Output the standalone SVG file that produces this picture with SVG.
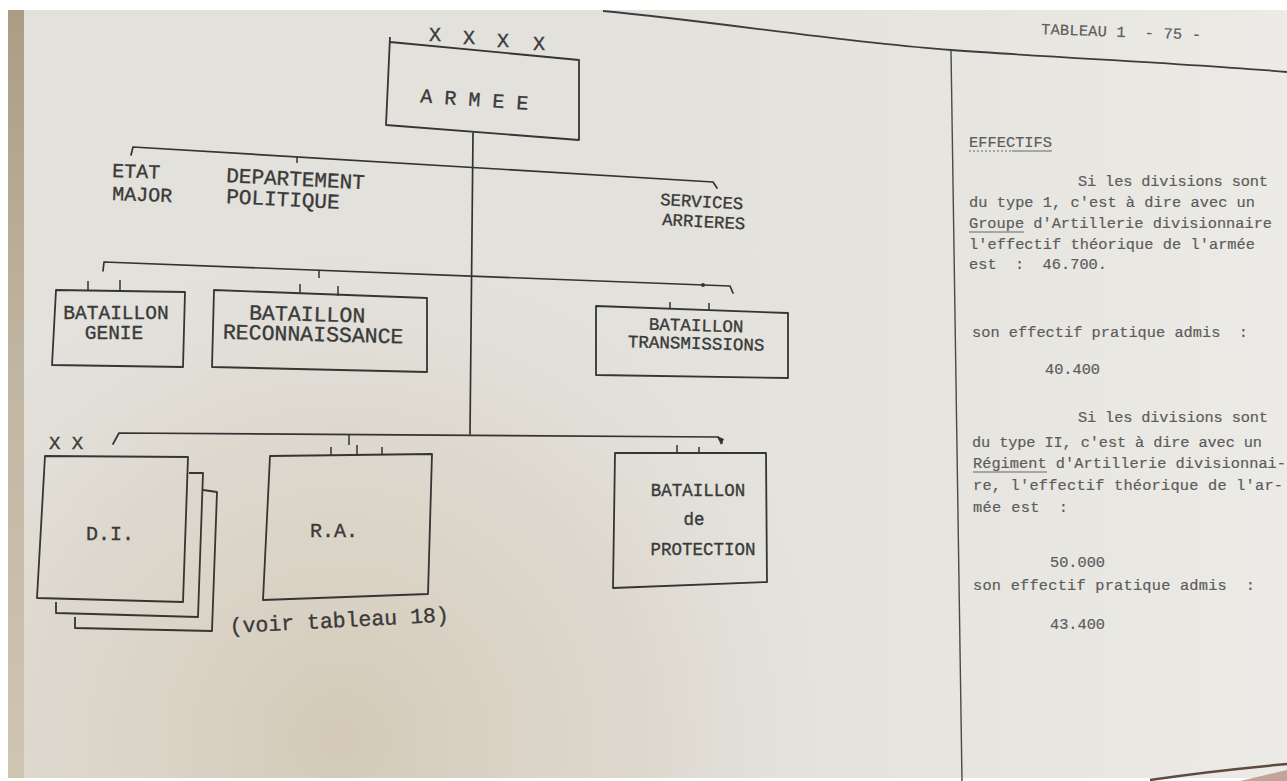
<svg xmlns="http://www.w3.org/2000/svg" width="1287" height="781" viewBox="0 0 1287 781" xml:space="preserve">
<defs>
<radialGradient id="beige" cx="340" cy="740" r="520" gradientUnits="userSpaceOnUse">
<stop offset="0" stop-color="#d3c8b6" stop-opacity="0.95"/>
<stop offset="0.6" stop-color="#d8d0c2" stop-opacity="0.5"/>
<stop offset="1" stop-color="#e3e1db" stop-opacity="0"/>
</radialGradient>
<linearGradient id="strip" x1="0" y1="0" x2="0" y2="1">
<stop offset="0" stop-color="#ab9d84"/>
<stop offset="0.5" stop-color="#c2b7a3"/>
<stop offset="1" stop-color="#cfc5b3"/>
</linearGradient>
<linearGradient id="light" x1="0" y1="0" x2="1" y2="0">
<stop offset="0" stop-color="#e9e8e3" stop-opacity="0"/>
<stop offset="1" stop-color="#eeede9" stop-opacity="0.8"/>
</linearGradient>
</defs>
<style>
text{white-space:pre}
.ln{fill:none;stroke:#333;stroke-width:1.7;stroke-linejoin:round;stroke-linecap:round}
.bx{fill:none;stroke:#353535;stroke-width:1.8;stroke-linejoin:round}
.tk{fill:none;stroke:#333;stroke-width:1.5}
.t{font-family:"Liberation Mono","DejaVu Sans Mono",monospace;fill:#3a3a3a;stroke:#3a3a3a;stroke-width:0.35}
.c{text-anchor:middle}
.r{font-family:"Liberation Mono","DejaVu Sans Mono",monospace;font-size:15.3px;fill:#5c5c5c;stroke:#5c5c5c;stroke-width:0.2}
.ul{stroke:#666;stroke-width:1.2}
</style>
<rect width="1287" height="781" fill="#e3e1db"/>
<rect x="620" y="0" width="667" height="781" fill="url(#light)"/>
<rect width="1287" height="781" fill="url(#beige)"/>
<rect x="8" y="10" width="16" height="768" fill="url(#strip)"/>
<rect x="0" y="0" width="1287" height="10" fill="#ffffff"/>
<rect x="0" y="0" width="8" height="781" fill="#ffffff"/>
<rect x="0" y="778" width="1287" height="3" fill="#ffffff"/>
<path d="M1240,781 L1287,770 L1287,781 Z" fill="#c4a497"/>
<path d="M1150,780 Q1210,771 1287,764" fill="none" stroke="#5e4a3e" stroke-width="2.5"/>

<!-- page lines -->
<path d="M603,11 C720,22 840,42 951,50 S1200,64 1287,72" fill="none" stroke="#3c3c3c" stroke-width="1.8"/>
<path d="M951,50 L962,781" fill="none" stroke="#4a4a4a" stroke-width="1.4"/>

<!-- connectors -->
<g id="connectors">
<path class="ln" d="M473,133 L470,434"/>
<path class="ln" d="M131,155 L133,147 L713,182 L717,188"/>
<path class="tk" d="M297,157 L297,163"/>
<path class="ln" d="M103,271 L104,262 L730,286 L733,293"/>
<circle cx="703" cy="285" r="2" fill="#333"/>
<path class="tk" d="M319,270 L319,278"/>
<path class="tk" d="M88,281 L88,291 M120,280 L120,291"/>
<path class="tk" d="M300,284 L300,294 M338,286 L338,296"/>
<path class="tk" d="M670,302 L670,309 M709,303 L709,310"/>
<path class="ln" d="M113,444 L119,433 L718,437 L722,443"/>
<path d="M717,436 L724,439 L721,445 Z" fill="#333"/>
<path class="tk" d="M349,435 L349,445"/>
<path class="tk" d="M331,447 L331,456 M357,445 L357,456 M382,447 L382,455"/>
<path class="tk" d="M677,445 L677,453 M699,447 L699,453"/>
</g>

<!-- ARMEE -->
<g id="armee">
<text class="t" font-size="20" x="435" y="41" text-anchor="middle">X</text>
<text class="t" font-size="20" x="469" y="44" text-anchor="middle">X</text>
<text class="t" font-size="20" x="503" y="47" text-anchor="middle">X</text>
<text class="t" font-size="20" x="539" y="50" text-anchor="middle">X</text>
<path class="bx" d="M390,37 L386,125 L579,140 L579,60 L390,42"/>
<text class="t c" font-size="20" x="474" y="106" transform="rotate(4 474 106)">A R M E E</text>
</g>

<g id="etat-major">
<text class="t" font-size="20" x="112" y="177" transform="rotate(2 112 177)">ETAT</text>
<text class="t" font-size="20" x="112" y="200" transform="rotate(2 112 200)">MAJOR</text>
</g>
<g id="departement-politique">
<text class="t" font-size="21" x="226" y="182" transform="rotate(3 226 182)">DEPARTEMENT</text>
<text class="t" font-size="21" x="226" y="203" transform="rotate(3 226 203)">POLITIQUE</text>
</g>
<g id="services-arrieres">
<text class="t" font-size="17.3" x="660" y="205" transform="rotate(3 660 205)">SERVICES</text>
<text class="t" font-size="17.3" x="662" y="225" transform="rotate(3 662 225)">ARRIERES</text>
</g>

<g id="bataillon-genie">
<path class="bx" d="M56,290 L185,292 L183,367 L52,365 Z"/>
<text class="t c" font-size="19.5" x="116" y="319">BATAILLON</text>
<text class="t c" font-size="19.5" x="114" y="339">GENIE</text>
</g>
<g id="bataillon-reconnaissance">
<path class="bx" d="M214,290 L427,298 L427,372 L212,367 Z"/>
<text class="t c" font-size="21.5" x="307" y="321" transform="rotate(1.5 307 321)">BATAILLON</text>
<text class="t c" font-size="21.5" x="313" y="341" transform="rotate(1.5 313 341)">RECONNAISSANCE</text>
</g>
<g id="bataillon-transmissions">
<path class="bx" d="M596,306 L788,313 L788,378 L596,375 Z"/>
<text class="t c" font-size="17.5" x="696" y="331" transform="rotate(1.5 696 331)">BATAILLON</text>
<text class="t c" font-size="17.5" x="696" y="349" transform="rotate(1.5 696 349)">TRANSMISSIONS</text>
</g>

<g id="di">
<text class="t" font-size="19" x="49" y="449">X X</text>
<path class="bx" d="M203,490 L217,492 L212,631 L75,628 L75,617"/>
<path class="bx" d="M189,473 L203,473 L198,617 L56,613 L56,602"/>
<path class="bx" d="M45,456 L188,457 L183,602 L37,598 Z"/>
<text class="t c" font-size="20" x="110" y="540">D.I.</text>
</g>
<g id="ra">
<path class="bx" d="M270,456 L432,454 L428,594 L263,600 Z"/>
<text class="t c" font-size="20" x="334" y="537">R.A.</text>
<text class="t" font-size="21.5" x="230" y="633" transform="rotate(-3 230 633)">(voir tableau 18)</text>
</g>
<g id="bataillon-protection">
<path class="bx" d="M615,453 L766,453 L767,582 L613,588 Z"/>
<text class="t c" font-size="17.5" x="698" y="496">BATAILLON</text>
<text class="t c" font-size="17.5" x="694" y="525">de</text>
<text class="t c" font-size="17.5" x="703" y="555">PROTECTION</text>
</g>

<!-- right page text -->
<g id="notes">
<text class="r" font-size="16" x="1041" y="34" textLength="160" transform="rotate(2 1041 34)">TABLEAU 1  - 75 -</text>
<text class="r" x="969" y="147" textLength="83">EFFECTIFS</text>
<path class="ul" d="M969,151 L1012,151" stroke-dasharray="2 2"/>
<path class="ul" d="M1012,151 L1052,151"/>
<text class="r" x="1078" y="186" textLength="190">Si les divisions sont</text>
<text class="r" x="969" y="207" textLength="286">du type 1, c'est à dire avec un</text>
<text class="r" x="969" y="228" textLength="303">Groupe d'Artillerie divisionnaire</text>
<path class="ul" d="M969,232 L1024,232"/>
<text class="r" x="969" y="249" textLength="286">l'effectif théorique de l'armée</text>
<text class="r" x="969" y="269" textLength="138">est  :  46.700.</text>
<text class="r" x="972" y="337" textLength="276">son effectif pratique admis  :</text>
<text class="r" x="1045" y="374" textLength="55">40.400</text>
<text class="r" x="1078" y="422" textLength="190">Si les divisions sont</text>
<text class="r" x="972" y="447" textLength="290">du type II, c'est à dire avec un</text>
<text class="r" x="973" y="468" textLength="313">Régiment d'Artillerie divisionnai-</text>
<path class="ul" d="M973,472 L1047,472"/>
<text class="r" x="973" y="490" textLength="310">re, l'effectif théorique de l'ar-</text>
<text class="r" x="973" y="512" textLength="95">mée est  :</text>
<text class="r" x="1050" y="567" textLength="55">50.000</text>
<text class="r" x="973" y="590" textLength="282">son effectif pratique admis  :</text>
<text class="r" x="1050" y="629" textLength="55">43.400</text>
</g>
</svg>
